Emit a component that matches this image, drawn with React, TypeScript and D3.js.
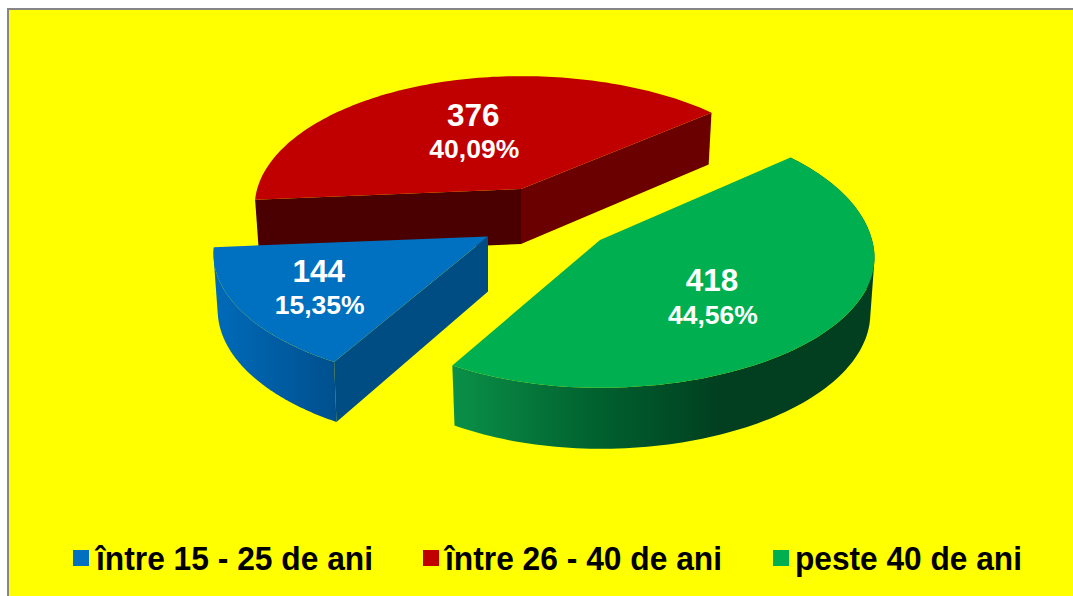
import React from "react";
import * as d3 from "d3";

const categories = ["între 15 - 25 de ani", "între 26 - 40 de ani", "peste 40 de ani"];
const values = [144, 376, 418];
const percentLabels = ["15,35%", "40,09%", "44,56%"];
const topColors = ["#0070C0", "#C00000", "#00B050"];

const W = 1073, H = 596;
const START = (210 * Math.PI) / 180;
const RX = 272, RY = 128, PERSP = 0.134, DEPTH = 55, BASE_SCALE = 0.985;
const apexes: [number, number][] = [[488, 236.5], [521, 189], [600, 240]];
const leftScale = [1, 0.97, 0.96];
const backScale = [1, 1, 1.08];
const labelR = [0.7, 0.5, 0.512];
const labelNudge = [-1.5, -3.8, 11.6];
const legendSwatchX = [73, 423, 773];
const legendTextX = [96, 445, 795];
const legendTextW = [277, 277, 227];

const pieGen = d3.pie<number>().sort(null).startAngle(START).endAngle(START + 2 * Math.PI);
const arcs = pieGen(values);
const line = d3.line<[number, number]>();

function proj(i: number, a: number, r: number, base = false): [number, number] {
  const apex = apexes[i];
  const X = r * Math.sin(a), Z = r * Math.cos(a);
  const s = 1 / (1 + PERSP * Z);
  const dx = X * s * RX * (X < 0 ? leftScale[i] : 1);
  const dy = -Z * s * RY * (Z > 0 ? backScale[i] : 1);
  return base
    ? [apex[0] + dx * BASE_SCALE, apex[1] + dy + DEPTH * (1 + (s - 1) * 0.7)]
    : [apex[0] + dx, apex[1] + dy];
}
const N = 120;
const angleAt = (a0: number, a1: number, k: number) => a0 + ((a1 - a0) * k) / N;
const rim = (i: number, a0: number, a1: number) =>
  d3.range(0, N + 1).map((k) => proj(i, angleAt(a0, a1, k), 1));

const topPath = (i: number, a0: number, a1: number) =>
  line([apexes[i], ...rim(i, a0, a1)]) + "Z";

// One path made of quads that all wind the same way, so the fill is their union with no seams.
const wallPath = (i: number, a0: number, a1: number) =>
  d3.range(0, N).map((k) => {
    const p = angleAt(a0, a1, k), q = angleAt(a0, a1, k + 1);
    const quad: [number, number][] = [proj(i, p, 1), proj(i, q, 1), proj(i, q, 1, true), proj(i, p, 1, true)];
    if (d3.polygonArea(quad) < 0) quad.reverse();
    return line(quad) + "Z";
  }).join("");

const cutPath = (i: number, a: number) =>
  line([apexes[i], proj(i, a, 1), proj(i, a, 1, true), proj(i, a, 0, true)]) + "Z";

export default function App() {
  const [blue, red, green] = arcs;
  return (
    <svg width={W} height={H} style={{ position: "fixed", left: 0, top: 0, background: "#fff" }}
      fontFamily="'Liberation Sans', Arial, sans-serif">
      <defs>
        <linearGradient id="gw" gradientUnits="userSpaceOnUse" x1={453} x2={720} y1={0} y2={0}>
          <stop offset="0" stopColor="#0A9048" />
          <stop offset="0.55" stopColor="#00602E" />
          <stop offset="1" stopColor="#013F20" />
        </linearGradient>
        <linearGradient id="bw" gradientUnits="userSpaceOnUse" x1={212} x2={335} y1={0} y2={0}>
          <stop offset="0" stopColor="#006BBA" />
          <stop offset="1" stopColor="#00508E" />
        </linearGradient>
      </defs>
      <rect x={8} y={9} width={W + 20} height={H + 20} fill="#FFFF00" stroke="#868686" strokeWidth={2} />

      {/* red */}
      <path d={cutPath(1, red.endAngle)} fill="#6B0000" />
      <path d={cutPath(1, red.startAngle)} fill="#4A0000" />
      <path d={topPath(1, red.startAngle, red.endAngle)} fill={topColors[1]} />

      {/* green */}
      <path d={wallPath(2, green.startAngle, green.endAngle)} fill="url(#gw)" />
      <path d={topPath(2, green.startAngle, green.endAngle)} fill={topColors[2]} />

      {/* blue */}
      <path d={wallPath(0, blue.startAngle, blue.endAngle)} fill="url(#bw)" />
      <path d={cutPath(0, blue.startAngle)} fill="#004D84" />
      <path d={topPath(0, blue.startAngle, blue.endAngle)} fill={topColors[0]} />

      {arcs.map((d, i) => {
        const mid = (d.startAngle + d.endAngle) / 2;
        const [x, y] = proj(i, mid, labelR[i]);
        return (
          <g key={i} textAnchor="middle" fill="#fff" fontWeight="bold">
            <text x={x} y={y + labelNudge[i] - 4} fontSize={31.5}>{values[i]}</text>
            <text x={x + 1} y={y + labelNudge[i] + 28.5} fontSize={26.5}>{percentLabels[i]}</text>
          </g>
        );
      })}

      {categories.map((c, i) => (
        <g key={c}>
          <rect x={legendSwatchX[i]} y={550} width={16} height={16} fill={topColors[i]} />
          <text x={legendTextX[i]} y={569.5} fontSize={33} fontWeight="bold" fill="#000"
            textLength={legendTextW[i]} lengthAdjust="spacingAndGlyphs">{c}</text>
        </g>
      ))}
    </svg>
  );
}
